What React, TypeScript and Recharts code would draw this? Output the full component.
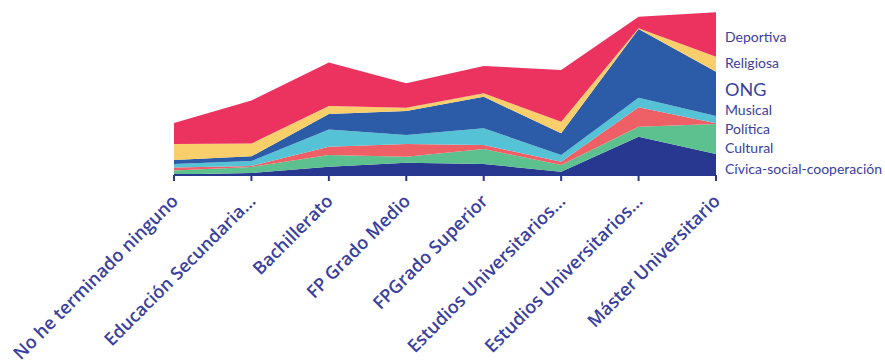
import { AreaChart, Area, XAxis, YAxis } from 'recharts';

const categories = [
    'No he terminado ninguno',
    'Educación Secundaria...',
    'Bachillerato',
    'FP Grado Medio',
    'FPGrado Superior',
    'Estudios Universitarios...',
    'Estudios Universitarios...',
    'Máster Universitario',
];

// stacked from bottom to top
const civica = [0.5, 2, 8.3, 12.3, 11, 3.3, 38.3, 21];
const cultural = [4, 6, 11.7, 6, 15, 6.7, 10, 30];
const politica = [3, 1, 8.3, 12.7, 4, 3.3, 19.4, 0.7];
const musical = [3.5, 5, 17.3, 9, 16.7, 6.7, 9.6, 7.3];
const ong = [4, 4.7, 15.3, 24, 31.6, 21.7, 68.7, 44.3];
const religiosa = [16, 12.7, 8, 3.3, 3.4, 11.6, 0.7, 15];
const deportiva = [21, 43, 43.7, 24.4, 27.3, 51.7, 11.6, 44.4];

const series = [
    { key: 'civica', name: 'Cívica-social-cooperación', color: '#283891', values: civica },
    { key: 'cultural', name: 'Cultural', color: '#5cc08f', values: cultural },
    { key: 'politica', name: 'Política', color: '#ef6066', values: politica },
    { key: 'musical', name: 'Musical', color: '#55c3d5', values: musical },
    { key: 'ong', name: 'ONG', color: '#2c5ba8', values: ong },
    { key: 'religiosa', name: 'Religiosa', color: '#f8cf6a', values: religiosa },
    { key: 'deportiva', name: 'Deportiva', color: '#ec3360', values: deportiva },
];

const data = categories.map((cat, i) => {
    const row: any = { cat };
    series.forEach(s => { row[s.key] = s.values[i]; });
    return row;
});

const textColor = '#3a409e';

// label centres next to the last column
const labelPos: Record<string, { y: number; size: number }> = {
    Deportiva: { y: 37, size: 14 },
    Religiosa: { y: 63, size: 14 },
    ONG: { y: 90, size: 18 },
    Musical: { y: 110, size: 14 },
    'Política': { y: 129, size: 14 },
    Cultural: { y: 148, size: 14 },
    'Cívica-social-cooperación': { y: 169, size: 14 },
};

const SideLabels = () => (
    <div style={{ position: 'absolute', left: 725, top: 0, width: 170, height: 180 }}>
        {series.map(s => {
            const p = labelPos[s.name];
            return (
                <div
                    key={s.key}
                    style={{
                        position: 'absolute',
                        left: 0,
                        top: p.y - p.size * 0.6,
                        fontSize: p.size,
                        lineHeight: `${p.size * 1.2}px`,
                        color: textColor,
                        fontFamily: 'Lato, sans-serif',
                        whiteSpace: 'nowrap',
                    }}
                >
                    {s.name}
                </div>
            );
        })}
    </div>
);

const RotatedTick = ({ x, y, payload }: any) => (
    <g transform={`translate(${x + 1},${y + 15})`}>
        <text
            transform="rotate(-45)"
            textAnchor="end"
            dy={6}
            fill={textColor}
            fontSize={18}
            style={{ fontFamily: "'Open Sans', sans-serif", fontWeight: 600 }}
        >
            {payload.value}
        </text>
    </g>
);

export default function App() {
    return (
        <div style={{ position: 'relative', width: 885, height: 364 }}>
            <style>{'body{margin:0}'}</style>
            <AreaChart
                width={885}
                height={364}
                data={data}
                margin={{ top: 0, right: 169, left: 174, bottom: 0 }}
            >
                <XAxis
                    dataKey="cat"
                    height={189}
                    interval={0}
                    tick={<RotatedTick />}
                    axisLine={{ stroke: '#283891', strokeWidth: 2 }}
                    tickLine={{ stroke: '#283891', strokeWidth: 2 }}
                    tickSize={6}
                />
                <YAxis hide domain={[0, 175]} />
                {series.map(s => (
                    <Area
                        key={s.key}
                        type="linear"
                        dataKey={s.key}
                        name={s.name}
                        stackId="1"
                        stroke="none"
                        fill={s.color}
                        fillOpacity={1}
                        isAnimationActive={false}
                    />
                ))}
            </AreaChart>
            <SideLabels />
        </div>
    );
}
